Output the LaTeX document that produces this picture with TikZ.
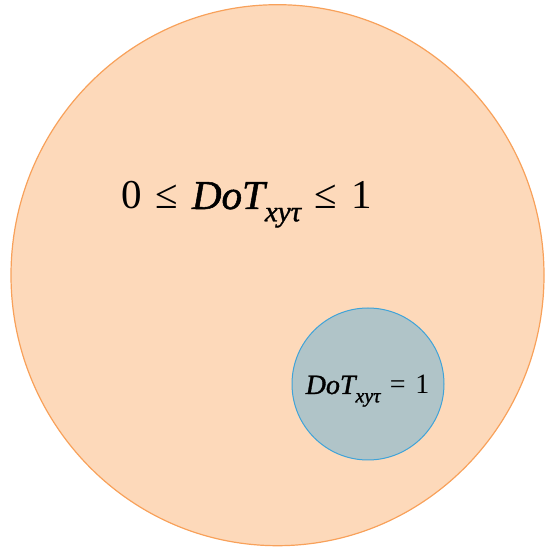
\documentclass[tikz,border=0pt]{standalone}
\usepackage{fontspec}
\setmainfont{Liberation Serif}
\newfontfamily\heavyit[FakeBold=1.2]{Liberation Serif Italic}
\definecolor{peach}{RGB}{253,217,186}
\definecolor{peachline}{RGB}{248,161,90}
\definecolor{greyblue}{RGB}{176,196,200}
\definecolor{blueline}{RGB}{63,163,216}
\newcommand{\dotsub}[1]{{\heavyit DoT}\raisebox{-0.3em}{\fontsize{#1}{#1}\selectfont\heavyit xyτ}}
\newcommand{\relgap}{\hspace{0.34em}}
\begin{document}
\begin{tikzpicture}[x=1pt,y=1pt,
  bigset/.style={fill=peach,draw=peachline,line width=1.2pt},
  subset/.style={fill=greyblue,draw=blueline,line width=1pt}]
\useasboundingbox (0,0) rectangle (545,549);
\path[bigset] (277.5,273.8) ellipse [x radius=266.5, y radius=270.5];
\node[circle,subset,minimum size=152pt,inner sep=0pt] (sub) at (368,165) {};
\node[inner sep=0pt,anchor=base] (bigtxt) at (246.5,340) {\fontsize{41}{44}\selectfont 0\relgap≤\relgap\dotsub{29}\relgap≤\relgap1};
\node[inner sep=0pt,anchor=base] (subtxt) at (367.5,155) {\fontsize{28}{30}\selectfont \dotsub{20}\relgap=\relgap1};
\end{tikzpicture}
\end{document}
